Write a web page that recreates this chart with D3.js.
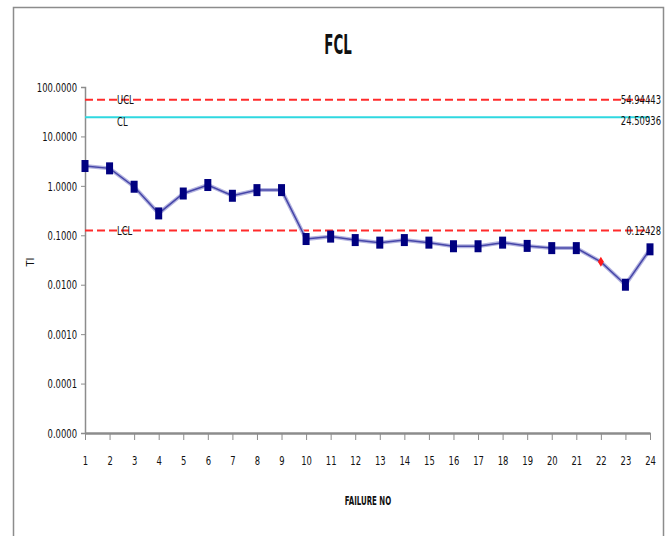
<!DOCTYPE html>
<html lang="en">
<head>
  <meta charset="UTF-8" />
  <title>FCL</title>
  <script src="https://d3js.org/d3.v7.min.js"></script>
  <style>
    body { margin: 0; background: #fff; }
    svg text { font-family: "Liberation Sans Narrow", "DejaVu Sans Condensed", "DejaVu Sans", sans-serif; font-stretch: condensed; fill: #111; }
  </style>
</head>
<body>
  <div id="chart"></div>
  <script>
    // failure numbers and the plotted values (log scale)
    var failureNo = d3.range(1, 25);
    var values = [2.52, 2.26, 0.96, 0.277, 0.70, 1.04, 0.63, 0.82, 0.82, 0.084, 0.094, 0.080,
                  0.071, 0.080, 0.071, 0.060, 0.060, 0.071, 0.061, 0.055, 0.055, 0.029, 0.010, 0.052];
    var flagged = [22]; // point drawn as red diamond
    var yTicks = [100, 10, 1, 0.1, 0.01, 0.001, 0.0001, 0.00001];
    var limitNames = ['UCL', 'CL', 'LCL'];
    var limitValues = [54.94443, 24.50936, 0.12428];
    var limitLabels = ['54.94443', '24.50936', '0.12428'];

    var width = 672, height = 536;
    var plotLeft = 85, plotRight = 650, plotTop = 87, plotBottom = 433;

    // narrow the glyphs so text looks like the condensed font of the original
    function squeeze(sel, k) {
      sel.each(function() {
        var w = this.getComputedTextLength();
        d3.select(this).attr('textLength', w * k).attr('lengthAdjust', 'spacingAndGlyphs');
      });
    }

    var svg = d3.select('#chart').append('svg')
      .attr('width', width)
      .attr('height', height);

    // outer chart border (bottom edge falls off the picture)
    svg.append('path')
      .attr('d', 'M13.5,' + height + 'V7.5H663.5V' + height)
      .attr('fill', 'none')
      .attr('stroke', '#8c8c8c')
      .attr('stroke-width', 1.5);

    var x = d3.scalePoint().domain(failureNo).range([plotLeft, plotRight]);
    var y = d3.scaleLog().domain([0.00001, 100]).range([plotBottom, plotTop]);

    // title
    svg.append('text')
      .attr('x', 338).attr('y', 54)
      .attr('text-anchor', 'middle')
      .attr('font-size', 27)
      .attr('font-weight', 'bold')
      .text('FCL')
      .call(squeeze, 0.55);

    // y axis
    var yAxis = svg.append('g')
      .attr('transform', 'translate(' + plotLeft + ',0)')
      .call(d3.axisLeft(y).tickValues(yTicks).tickFormat(d3.format('.4f')).tickSize(4).tickPadding(4));
    yAxis.select('.domain').attr('stroke', '#8c8c8c').attr('stroke-width', 1.5);
    yAxis.selectAll('.tick line').attr('stroke', '#8c8c8c');
    yAxis.selectAll('.tick text').attr('font-size', 13).attr('fill', '#111').call(squeeze, 0.72);

    // x axis
    var xAxis = svg.append('g')
      .attr('transform', 'translate(0,' + plotBottom + ')')
      .call(d3.axisBottom(x).tickSize(7).tickPadding(16).tickSizeOuter(0));
    xAxis.select('.domain').attr('stroke', '#8c8c8c').attr('stroke-width', 2.5);
    xAxis.selectAll('.tick line').attr('stroke', '#8c8c8c');
    xAxis.selectAll('.tick text').attr('font-size', 13).attr('fill', '#111').call(squeeze, 0.72);

    // axis titles
    svg.append('text')
      .attr('x', 368).attr('y', 505)
      .attr('text-anchor', 'middle')
      .attr('font-size', 13)
      .attr('font-weight', 'bold')
      .text('FAILURE NO')
      .call(squeeze, 0.6);

    svg.append('text')
      .attr('transform', 'translate(34,262) rotate(-90)')
      .attr('text-anchor', 'middle')
      .attr('font-size', 11)
      .text('TI');

    // control limit lines
    limitNames.forEach(function(name, i) {
      var ly = y(limitValues[i]);
      var isCL = name === 'CL';
      svg.append('line')
        .attr('x1', plotLeft).attr('x2', plotRight)
        .attr('y1', ly).attr('y2', ly)
        .attr('stroke', isCL ? '#2fd8e0' : '#ff2b2b')
        .attr('stroke-width', 2)
        .attr('stroke-dasharray', isCL ? null : '8,4');

      svg.append('text')
        .attr('x', 117)
        .attr('y', isCL ? ly + 4 : ly)
        .attr('dy', '0.35em')
        .attr('font-size', 13)
        .text(name)
        .call(squeeze, 0.72);

      svg.append('text')
        .attr('x', 661)
        .attr('y', isCL ? ly + 3 : ly)
        .attr('dy', '0.35em')
        .attr('text-anchor', 'end')
        .attr('font-size', 13)
        .text(limitLabels[i])
        .call(squeeze, 0.72);
    });

    // data line with a soft halo
    var line = d3.line()
      .x(function(d, i) { return x(failureNo[i]); })
      .y(function(d) { return y(d); });

    svg.append('path')
      .datum(values)
      .attr('d', line)
      .attr('fill', 'none')
      .attr('stroke', '#b4b4e0')
      .attr('stroke-width', 4);

    svg.append('path')
      .datum(values)
      .attr('d', line)
      .attr('fill', 'none')
      .attr('stroke', '#4646a8')
      .attr('stroke-width', 1.5);

    // markers
    values.forEach(function(v, i) {
      var cx = x(failureNo[i]), cy = y(v);
      if (flagged.indexOf(failureNo[i]) >= 0) {
        svg.append('path')
          .attr('d', 'M' + cx + ',' + (cy - 5) + 'L' + (cx + 3) + ',' + cy + 'L' + cx + ',' + (cy + 5) + 'L' + (cx - 3) + ',' + cy + 'Z')
          .attr('fill', '#ff1a1a');
      } else {
        svg.append('rect')
          .attr('x', cx - 3.5).attr('y', cy - 6)
          .attr('width', 7).attr('height', 12)
          .attr('fill', '#000080');
      }
    });
  </script>
</body>
</html>
